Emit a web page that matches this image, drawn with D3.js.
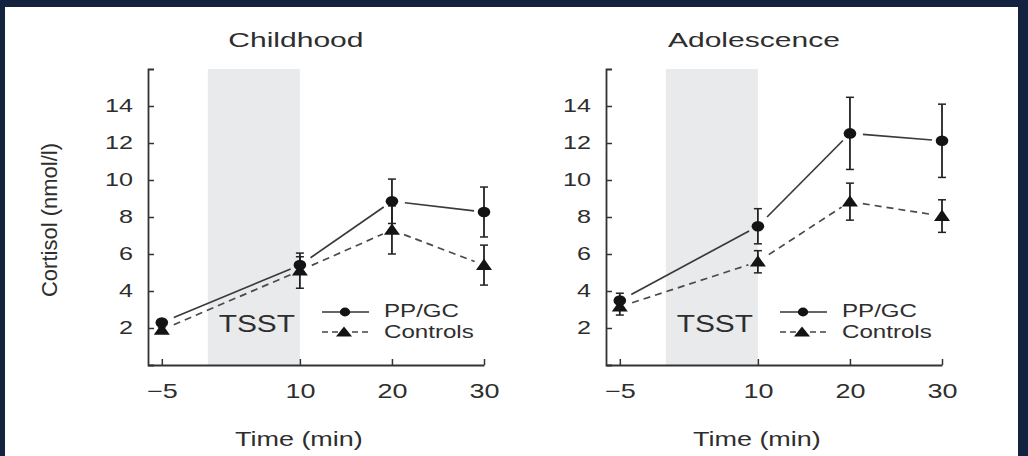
<!DOCTYPE html>
<html><head><meta charset="utf-8">
<script src="https://cdn.jsdelivr.net/npm/d3@7"></script>
<style>html,body{margin:0;padding:0;background:#12223f;overflow:hidden}svg{display:block}</style>
</head><body><svg id="c" width="1028" height="456"></svg>
<script>
// ---- data ----
const times = [-5, 10, 20, 30];
const xTicks = [-5, 10, 20, 30];
const yTicks = [2, 4, 6, 8, 10, 12, 14];
const panelTitles = ["Childhood", "Adolescence"];
const seriesNames = ["PP/GC", "Controls"];
const shadeLabel = "TSST";
const tsstWindow = [0, 10];
const childPP = [2.3, 5.4, 8.85, 8.27];
const childPPErr = [0.15, 0.45, 1.2, 1.35];
const childCtrl = [1.9, 5.1, 7.3, 5.4];
const childCtrlErr = [0.15, 0.95, 1.3, 1.08];
const adolPP = [3.48, 7.5, 12.52, 12.12];
const adolPPErr = [0.4, 0.95, 1.95, 1.98];
const adolCtrl = [3.15, 5.58, 8.83, 8.05];
const adolCtrlErr = [0.45, 0.6, 1.0, 0.88];

// ---- drawing ----
const svg = d3.select("#c");
const FONT = "'Liberation Sans', Arial, sans-serif";
const TXT = "#2e2e2e";

svg.append("rect").attr("x", 5).attr("y", 7).attr("width", 1013).attr("height", 449).attr("fill", "#fff");

function stext(parent, x, y, txt, size, sx, anchor) {
  return parent.append("text")
    .attr("transform", `translate(${x},${y}) scale(${sx},1)`)
    .attr("text-anchor", anchor).attr("font-size", size)
    .attr("font-family", FONT).attr("fill", TXT).text(txt);
}

const panels = [
  {title: panelTitles[0], pp: childPP, ppErr: childPPErr, ctrl: childCtrl, ctrlErr: childCtrlErr, x0: 148, ylab: true},
  {title: panelTitles[1], pp: adolPP, ppErr: adolPPErr, ctrl: adolCtrl, ctrlErr: adolCtrlErr, x0: 606, ylab: false}
];

const TOP = 69, BOT = 365, W = 336;

panels.forEach(p => {
  const g = svg.append("g");
  const x = d3.scaleLinear().domain([-6.5, 30]).range([p.x0, p.x0 + W]);
  const y = d3.scaleLinear().domain([0, 16]).range([BOT, TOP]);

  // shaded TSST window
  g.append("rect").attr("x", x(tsstWindow[0])).attr("y", y(16))
    .attr("width", x(tsstWindow[1]) - x(tsstWindow[0])).attr("height", y(0) - y(16))
    .attr("fill", "#e9eaec");
  stext(g, (x(tsstWindow[0]) + x(tsstWindow[1])) / 2 + 3, 332, shadeLabel, 23, 1.3, "middle");

  // axes
  const xa = g.append("g").attr("transform", `translate(0,${BOT})`)
    .call(d3.axisBottom(x).tickValues(xTicks).tickSizeInner(-6).tickSizeOuter(0).tickFormat(d3.format("d")));
  const ya = g.append("g").attr("transform", `translate(${p.x0},0)`)
    .call(d3.axisLeft(y).tickValues(yTicks).tickSizeInner(-6).tickSizeOuter(-6));
  [xa, ya].forEach(a => {
    a.select(".domain").attr("stroke", "#333").attr("stroke-width", 1.8);
    a.selectAll(".tick line").attr("stroke", "#333").attr("stroke-width", 1.5);
  });
  xa.selectAll(".tick text").attr("y", 33).attr("dy", null).attr("font-size", 20)
    .attr("font-family", FONT).attr("fill", TXT).attr("transform", "scale(1.35,1)");
  ya.selectAll(".tick text").attr("x", -15 / 1.4).attr("font-size", 18)
    .attr("font-family", FONT).attr("fill", TXT).attr("transform", "scale(1.4,1)");

  // titles and labels
  stext(g, x(10) - 4, 47, p.title, 21, 1.43, "middle");
  stext(g, x(10) - 1, 446, "Time (min)", 20, 1.35, "middle");
  if (p.ylab) {
    g.append("text").attr("transform", "translate(57,220) rotate(-90)")
      .attr("text-anchor", "middle").attr("font-size", 22).attr("font-family", FONT)
      .attr("fill", TXT).text("Cortisol (nmol/l)");
  }

  const series = [
    {vals: p.ctrl, err: p.ctrlErr, dash: "7,5", mark: "tri"},
    {vals: p.pp, err: p.ppErr, dash: null, mark: "circ"}
  ];

  // error bars
  series.forEach(s => {
    times.forEach((t, i) => {
      const cx = x(t), y1 = y(s.vals[i] - s.err[i]), y2 = y(s.vals[i] + s.err[i]);
      g.append("line").attr("x1", cx).attr("x2", cx).attr("y1", y1).attr("y2", y2)
        .attr("stroke", "#222").attr("stroke-width", 1.8);
      [y1, y2].forEach(yy => g.append("line").attr("x1", cx - 4).attr("x2", cx + 4)
        .attr("y1", yy).attr("y2", yy).attr("stroke", "#222").attr("stroke-width", 1.5));
    });
  });

  // connecting lines with gaps near markers
  const line = d3.line();
  series.forEach(s => {
    for (let i = 0; i < times.length - 1; i++) {
      const a = [x(times[i]), y(s.vals[i])], b = [x(times[i + 1]), y(s.vals[i + 1])];
      const dx = b[0] - a[0], dy = b[1] - a[1], L = Math.hypot(dx, dy);
      const ux = dx / L, uy = dy / L, g0 = 13, g1 = 10;
      const pts = [[a[0] + ux * g0, a[1] + uy * g0], [b[0] - ux * g1, b[1] - uy * g1]];
      g.append("path").attr("d", line(pts)).attr("fill", "none")
        .attr("stroke", s.dash ? "#4a4a4a" : "#3a3a3a").attr("stroke-width", 1.7)
        .attr("stroke-dasharray", s.dash);
    }
  });

  // markers
  series.forEach(s => {
    times.forEach((t, i) => {
      const cx = x(t), cy = y(s.vals[i]);
      if (s.mark === "circ") {
        g.append("ellipse").attr("cx", cx).attr("cy", cy).attr("rx", 6.3).attr("ry", 5.3).attr("fill", "#141414");
      } else {
        g.append("path").attr("d", `M${cx},${cy - 6.5}L${cx + 8},${cy + 4.8}L${cx - 8},${cy + 4.8}Z`).attr("fill", "#141414");
      }
    });
  });

  // legend
  const lx = x(30);
  g.append("line").attr("x1", lx - 162).attr("x2", lx - 115).attr("y1", 312).attr("y2", 312)
    .attr("stroke", "#333").attr("stroke-width", 1.6);
  g.append("ellipse").attr("cx", lx - 139).attr("cy", 312).attr("rx", 5.2).attr("ry", 4.4).attr("fill", "#141414");
  g.append("line").attr("x1", lx - 162).attr("x2", lx - 115).attr("y1", 332).attr("y2", 332)
    .attr("stroke", "#444").attr("stroke-width", 1.6).attr("stroke-dasharray", "6,4");
  g.append("path").attr("d", `M${lx - 140},${326.5}L${lx - 132},${336.5}L${lx - 148},${336.5}Z`).attr("fill", "#141414");
  stext(g, lx - 100, 317, seriesNames[0], 18, 1.34, "start");
  stext(g, lx - 100, 338, seriesNames[1], 18, 1.34, "start");
});
</script></body></html>
